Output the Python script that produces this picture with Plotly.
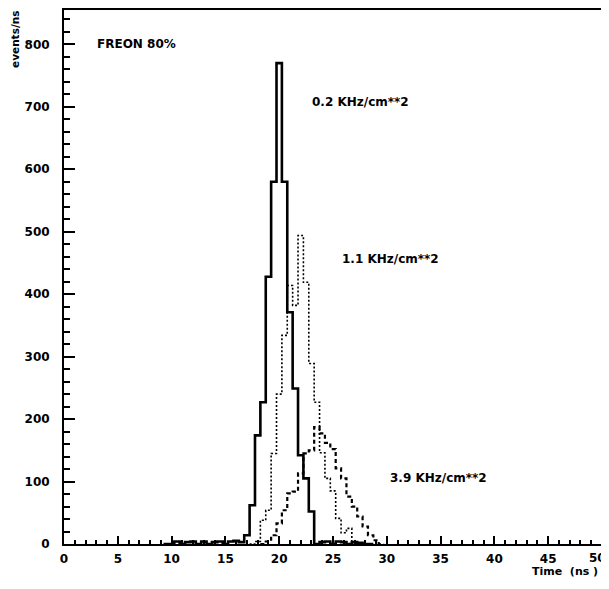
import plotly.graph_objects as go

BIN_W = 0.5  # ns

# 0.2 KHz/cm**2 (solid) : first bin centre and counts (events/ns)
solid_start = 10.0
solid_counts = [0, 4, 0, 3, 4, 0, 4, 0, 3, 4, 0, 4, 5, 3,
                14, 62, 174, 227, 428, 580, 770, 580, 371, 249, 142, 105, 52,
                0, 3, 4, 0, 4, 3, 0, 3, 2, 0]

# 1.1 KHz/cm**2 (dotted)
dotted_start = 18.0
dotted_counts = [4, 38, 54, 145, 240, 334, 414, 382, 494, 419, 289, 227,
                 146, 105, 85, 41, 18, 25, 3]

# 3.9 KHz/cm**2 (dashed)
dashed_start = 19.0
dashed_counts = [4, 14, 33, 54, 81, 84, 113, 145, 150, 187, 177, 162, 152,
                 121, 105, 76, 60, 44, 28, 14, 6]

x_ticks = [0, 5, 10, 15, 20, 25, 30, 35, 40, 45, 50]
y_ticks = [0, 100, 200, 300, 400, 500, 600, 700, 800]

labels = ["0.2 KHz/cm**2", "1.1 KHz/cm**2", "3.9 KHz/cm**2"]


def step_xy(start, counts):
    """Histogram outline: edges with padding zero bins on both sides."""
    n = len(counts)
    first_edge = start - BIN_W / 2
    xs = [first_edge - BIN_W] + [first_edge + i * BIN_W for i in range(n + 1)] + [first_edge + (n + 1) * BIN_W]
    ys = [0] + list(counts) + [0, 0]
    return xs, ys


FONT = "DejaVu Sans"

fig = go.Figure()

for (start, counts, dash, width) in [
    (dashed_start, dashed_counts, "4px,3px", 2.2),
    (dotted_start, dotted_counts, "2px,2px", 1.6),
    (solid_start, solid_counts, "solid", 2.6),
]:
    xs, ys = step_xy(start, counts)
    fig.add_trace(go.Scatter(x=xs, y=ys, mode="lines", line_shape="hv",
                             line=dict(color="black", width=width, dash=dash),
                             showlegend=False, hoverinfo="skip"))

fig.update_layout(
    width=601, height=581,
    margin=dict(l=56, r=7, t=0, b=45),
    paper_bgcolor="white", plot_bgcolor="white",
    font=dict(family=FONT, size=12, color="black"),
    showlegend=False,
)

tick_font = dict(family=FONT, size=12, weight="bold", color="black")

# the last x label sits on the figure edge; drawn separately so it stays visible
x_text = [str(v) if v != x_ticks[-1] else "" for v in x_ticks]

fig.update_xaxes(
    range=[0, 50], tickvals=x_ticks, ticktext=x_text,
    ticks="inside", ticklen=8, tickwidth=2, tickcolor="black",
    minor=dict(ticks="inside", dtick=1, ticklen=4, tickwidth=1.5, tickcolor="black"),
    showline=True, linecolor="black", linewidth=2, mirror=True,
    showgrid=False, zeroline=False,
    tickfont=tick_font,
    ticklabelstandoff=3,
)
fig.update_yaxes(
    range=[0, 855], tickvals=y_ticks, ticktext=[str(v) for v in y_ticks],
    ticks="inside", ticklen=11, tickwidth=2, tickcolor="black",
    minor=dict(ticks="inside", dtick=20, ticklen=6, tickwidth=1.5, tickcolor="black"),
    showline=True, linecolor="black", linewidth=2, mirror=True,
    showgrid=False, zeroline=False,
    tickfont=tick_font,
    ticklabelstandoff=10,
)

fig.add_annotation(text=str(x_ticks[-1]), xref="paper", yref="paper", x=1.0, y=-0.0255,
                   xanchor="right", xshift=6, yanchor="middle", showarrow=False, font=tick_font)

ann_font = dict(family=FONT, size=12, color="black", weight="bold")
fig.add_annotation(text="FREON 80%", xref="paper", yref="paper", x=0.057, y=0.937,
                   xanchor="left", yanchor="middle", showarrow=False, font=ann_font)
for text, px, py in zip(labels, [0.457, 0.513, 0.602], [0.828, 0.534, 0.123]):
    fig.add_annotation(text=text, xref="paper", yref="paper", x=px, y=py,
                       xanchor="left", yanchor="middle", showarrow=False, font=ann_font)
fig.add_annotation(text="events/ns", xref="paper", yref="paper", x=-0.09, y=0.945,
                   xanchor="center", yanchor="middle", textangle=-90, showarrow=False,
                   font=dict(family=FONT, size=10.5, color="black", weight="bold"))
fig.add_annotation(text="Time  (ns )", xref="paper", yref="paper", x=0.996, y=-0.052,
                   xanchor="right", yanchor="middle", showarrow=False,
                   font=dict(family=FONT, size=11, color="black", weight="bold"))

fig.write_html("out.html")
